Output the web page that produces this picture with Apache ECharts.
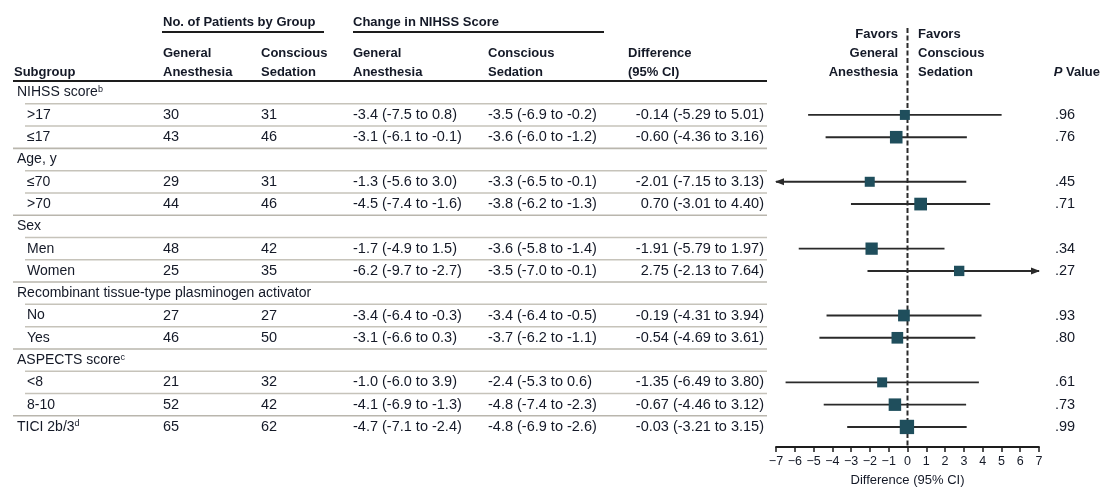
<!DOCTYPE html>
<html>
<head>
<meta charset="utf-8">
<script src="https://cdn.jsdelivr.net/npm/echarts@6.0.0/dist/echarts.min.js"></script>
<style>
  html, body { margin: 0; padding: 0; background: #ffffff; }
  #chart { width: 1103px; height: 488px; }
</style>
</head>
<body>
<div id="chart"></div>
<script>
// Subgroup structure
const groupLabels = ['NIHSS score', 'Age, y', 'Sex', 'Recombinant tissue-type plasminogen activator', 'ASPECTS score'];
const groupNotes = ['b', '', '', '', 'c'];
const groupSizes = [2, 2, 2, 2, 2];
const rowLabels = ['>17', '\u226417', '\u226470', '>70', 'Men', 'Women', 'No', 'Yes', '<8', '8-10', 'TICI 2b/3'];
const rowNotes = ['', '', '', '', '', '', '', '', '', '', 'd'];

// No. of patients by group
const nGA = [30, 43, 29, 44, 48, 25, 27, 46, 21, 52, 65];
const nCS = [31, 46, 31, 46, 42, 35, 27, 50, 32, 42, 62];

// Change in NIHSS score, general anesthesia
const gaMean = [-3.4, -3.1, -1.3, -4.5, -1.7, -6.2, -3.4, -3.1, -1.0, -4.1, -4.7];
const gaLo = [-7.5, -6.1, -5.6, -7.4, -4.9, -9.7, -6.4, -6.6, -6.0, -6.9, -7.1];
const gaHi = [0.8, -0.1, 3.0, -1.6, 1.5, -2.7, -0.3, 0.3, 3.9, -1.3, -2.4];

// Change in NIHSS score, conscious sedation
const csMean = [-3.5, -3.6, -3.3, -3.8, -3.6, -3.5, -3.4, -3.7, -2.4, -4.8, -4.8];
const csLo = [-6.9, -6.0, -6.5, -6.2, -5.8, -7.0, -6.4, -6.2, -5.3, -7.4, -6.9];
const csHi = [-0.2, -1.2, -0.1, -1.3, -1.4, -0.1, -0.5, -1.1, 0.6, -2.3, -2.6];

// Difference (95% CI) and P values
const diff = [-0.14, -0.60, -2.01, 0.70, -1.91, 2.75, -0.19, -0.54, -1.35, -0.67, -0.03];
const diffLo = [-5.29, -4.36, -7.15, -3.01, -5.79, -2.13, -4.31, -4.69, -6.49, -4.46, -3.21];
const diffHi = [5.01, 3.16, 3.13, 4.40, 1.97, 7.64, 3.94, 3.61, 3.80, 3.12, 3.15];
const pValues = ['.96', '.76', '.45', '.71', '.34', '.27', '.93', '.80', '.61', '.73', '.99'];

// Axis ticks
const xTicks = [-7, -6, -5, -4, -3, -2, -1, 0, 1, 2, 3, 4, 5, 6, 7];

// ---- layout of the table rows (group headers + subgroup rows) ----
const slots = [];
let r = 0;
groupLabels.forEach((g, gi) => {
  slots.push({ kind: 'group', label: g, note: groupNotes[gi], first: gi === 0 });
  for (let k = 0; k < groupSizes[gi]; k++) {
    slots.push({ kind: 'row', idx: r, label: rowLabels[r], note: rowNotes[r] });
    r++;
  }
});
for (; r < rowLabels.length; r++) {
  slots.push({ kind: 'single', idx: r, label: rowLabels[r], note: rowNotes[r] });
}
const rowSlot = [];
slots.forEach((s, i) => { if (s.kind !== 'group') rowSlot[s.idx] = i; });

const X_MIN = xTicks[0], X_MAX = xTicks[xTicks.length - 1];
const Y_MIN = -2.9, Y_MAX = 15.9;

const TEXT = '#141927';
const MARK = '#1f4e5c';
const FONT = "'Liberation Sans', Arial, sans-serif";
const RULE = '#c6c3ba';
const LABEL_SIZE = 14;
const NUM_SIZE = 14.5;

const fmt = (m, lo, hi, d) => `${m.toFixed(d)} (${lo.toFixed(d)} to ${hi.toFixed(d)})`;
const minus = v => String(v).replace('-', '\u2212');

const chart = echarts.init(document.getElementById('chart'), null, { renderer: 'canvas' });

const ciData = diff.map((d, i) => [d, rowSlot[i], diffLo[i], diffHi[i]]);
const pointData = diff.map((d, i) => [d, rowSlot[i], diffHi[i] - diffLo[i]]);

chart.setOption({
  animation: false,
  backgroundColor: '#ffffff',
  grid: { left: 776, right: 64, top: 28, bottom: 41, containLabel: false, outerBoundsMode: 'none' },
  xAxis: {
    type: 'value', min: X_MIN, max: X_MAX, interval: 1,
    splitLine: { show: false },
    axisLine: { show: true, onZero: false, lineStyle: { color: '#1d1d1d', width: 1.8 } },
    axisTick: { show: true, inside: false, length: 5, lineStyle: { color: '#1d1d1d', width: 1.5 } },
    axisLabel: { color: TEXT, fontFamily: FONT, fontSize: 12.5, margin: 8, formatter: v => minus(v) },
    name: 'Difference (95% CI)', nameLocation: 'middle', nameGap: 27,
    nameTextStyle: { color: TEXT, fontFamily: FONT, fontSize: 13 }
  },
  yAxis: {
    type: 'value', min: Y_MIN, max: Y_MAX, inverse: true, show: false,
    splitLine: { show: false }
  },
  series: [
    {
      type: 'line', silent: true, symbol: 'none', z: 2,
      data: [[0, Y_MIN], [0, Y_MAX]],
      lineStyle: { color: '#2a2a2a', width: 2, type: [5, 2.5] }
    },
    {
      type: 'custom', silent: true, z: 3,
      encode: { x: 0, y: 1 },
      data: ciData,
      renderItem: (params, api) => {
        const y = api.value(1), lo = api.value(2), hi = api.value(3);
        const p1 = api.coord([Math.max(lo, X_MIN), y]);
        const p2 = api.coord([Math.min(hi, X_MAX), y]);
        const children = [{
          type: 'line',
          shape: { x1: p1[0], y1: p1[1], x2: p2[0], y2: p2[1] },
          style: { stroke: '#2a2a2a', lineWidth: 1.9 }
        }];
        if (lo < X_MIN) {
          children.push({ type: 'polygon', shape: { points: [[p1[0] - 1, p1[1]], [p1[0] + 8, p1[1] - 3.5], [p1[0] + 8, p1[1] + 3.5]] }, style: { fill: '#2a2a2a' } });
        }
        if (hi > X_MAX) {
          children.push({ type: 'polygon', shape: { points: [[p2[0] + 1, p2[1]], [p2[0] - 8, p2[1] - 3.5], [p2[0] - 8, p2[1] + 3.5]] }, style: { fill: '#2a2a2a' } });
        }
        return { type: 'group', children };
      }
    },
    {
      type: 'scatter', silent: true, z: 4,
      symbol: 'rect',
      // square size reflects precision: narrower CI -> larger square
      symbolSize: v => 3 + 72 / v[2],
      itemStyle: { color: MARK, opacity: 1 },
      data: pointData
    }
  ]
});

// ---- table text and rules ----
const yOf = slot => chart.convertToPixel({ yAxisIndex: 0 }, slot);
const g = [];
const txt = (x, y, text, opt = {}) => g.push({
  type: 'text', x, y, silent: true,
  style: Object.assign({
    text, fill: TEXT, font: `${opt.bold ? 'bold ' : ''}${opt.size || LABEL_SIZE}px ${FONT}`,
    textAlign: opt.align || 'left', textVerticalAlign: 'middle'
  }, opt.rich ? { rich: opt.rich } : {})
});
const rule = (x1, x2, y, color, w) => g.push({
  type: 'line', silent: true,
  shape: { x1, y1: y, x2, y2: y },
  style: { stroke: color, lineWidth: w }
});

// column headers
const HB = { bold: true, size: 13 };
txt(163, 22, 'No. of Patients by Group', HB);
rule(162, 324, 32, '#1d1d1d', 2);
txt(353, 22, 'Change in NIHSS Score', HB);
rule(353, 604, 32, '#1d1d1d', 2);
txt(14, 72, 'Subgroup', HB);
txt(163, 53, 'General', HB); txt(163, 72, 'Anesthesia', HB);
txt(261, 53, 'Conscious', HB); txt(261, 72, 'Sedation', HB);
txt(353, 53, 'General', HB); txt(353, 72, 'Anesthesia', HB);
txt(488, 53, 'Conscious', HB); txt(488, 72, 'Sedation', HB);
txt(628, 53, 'Difference', HB); txt(628, 72, '(95% CI)', HB);
rule(13, 767, 81, '#1d1d1d', 2);

txt(898, 34, 'Favors', Object.assign({ align: 'right' }, HB));
txt(898, 53, 'General', Object.assign({ align: 'right' }, HB));
txt(898, 72, 'Anesthesia', Object.assign({ align: 'right' }, HB));
txt(918, 34, 'Favors', HB);
txt(918, 53, 'Conscious', HB);
txt(918, 72, 'Sedation', HB);
txt(1100, 72, '{i|P} Value', Object.assign({ align: 'right', rich: { i: { fontStyle: 'italic', fontWeight: 'bold', fontFamily: FONT, fontSize: 13, fill: TEXT, color: TEXT } } }, HB));

const supRich = {
  s: { fontSize: 9, fontFamily: FONT, color: TEXT, fill: TEXT, verticalAlign: 'top', padding: [0, 0, 6, 0] }
};
const labelText = (label, note) => note ? `${label}{s|${note}}` : label;

slots.forEach((s, i) => {
  const y = yOf(i);
  const yLine = yOf(i - 0.5);
  if (s.kind === 'group') {
    if (!s.first) rule(13, 767, yLine, '#b9b6ad', 1.6);
    txt(17, y, labelText(s.label, s.note), { rich: supRich });
    return;
  }
  if (s.kind === 'single') rule(13, 767, yLine, '#b9b6ad', 1.6);
  else rule(25, 767, yLine, RULE, 1.5);
  const j = s.idx;
  const N = { size: NUM_SIZE };
  txt(s.kind === 'single' ? 17 : 27, y, labelText(s.label, s.note), { rich: supRich });
  txt(163, y, String(nGA[j]), N);
  txt(261, y, String(nCS[j]), N);
  txt(353, y, fmt(gaMean[j], gaLo[j], gaHi[j], 1), N);
  txt(488, y, fmt(csMean[j], csLo[j], csHi[j], 1), N);
  txt(764, y, fmt(diff[j], diffLo[j], diffHi[j], 2), Object.assign({ align: 'right' }, N));
  txt(1055, y, pValues[j], N);
});

chart.setOption({ graphic: { elements: g } });
</script>
</body>
</html>
